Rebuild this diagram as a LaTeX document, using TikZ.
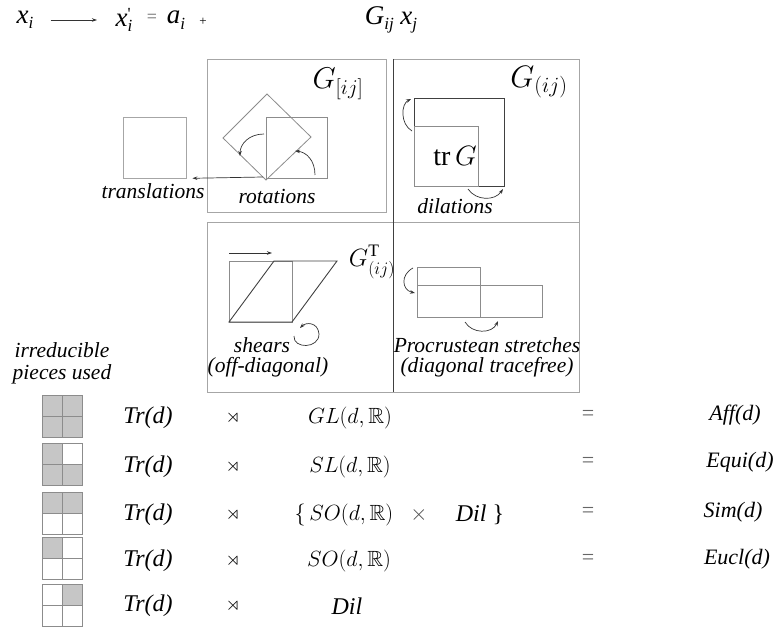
\documentclass[tikz,border=0pt]{standalone}
\usepackage{fix-cm}
\usepackage{amssymb}
\usepackage{fontspec}
\setmainfont{Liberation Serif}
\usetikzlibrary{arrows.meta}
\definecolor{panelgray}{HTML}{A6A6A6}
\definecolor{shapegray}{HTML}{8C8C8C}
\definecolor{cellgray}{HTML}{C6C6C6}
\newcommand{\isub}[2]{\textit{#1}\raisebox{-0.45ex}{\fontsize{17}{17}\selectfont\textit{#2}}}
\newcommand{\isubp}[2]{\textit{#1}\rlap{\raisebox{0.55ex}{\fontsize{17}{17}\selectfont\textquotesingle}}\raisebox{-0.45ex}{\fontsize{17}{17}\selectfont\textit{#2}}}

\begin{document}
\begin{tikzpicture}[x=1pt,y=-1pt,
    lbl/.style={font=\fontsize{21.5}{24}\selectfont\itshape, inner sep=0pt},
    hdr/.style={font=\fontsize{27}{30}\selectfont, inner sep=0pt},
    grp/.style={font=\fontsize{22}{26}\selectfont, inner sep=0pt},
    big/.style={font=\fontsize{30}{34}\selectfont, inner sep=0pt},
    panel/.style={panelgray, line width=0.8pt},
    shp/.style={shapegray, line width=0.8pt},
    dark/.style={black!75, line width=0.9pt},
    arr/.style={black!80, line width=0.7pt, -{Stealth[length=5pt,width=3.5pt]}},
    cell/.style={draw=shapegray, line width=0.6pt}]
  \useasboundingbox (0,0) rectangle (774,628);

  % header
  \node[hdr] (xi) at (25,20) {\isub{x}{i}};
  \node[hdr] (xp) at (124,20) {\isubp{x}{i}};
  \draw[arr] (xi.east) ++(17,0) coordinate (ha) -- (97,20);
  \node[hdr, font=\fontsize{18}{20}\selectfont, text=black!60] (eq0) at (152,18) {=};
  \node[hdr] (ai) at (176,20) {\isub{a}{i}};
  \node[hdr, font=\fontsize{13}{14}\selectfont] (pl0) at (203,22) {+};
  \node[hdr] (gx) at (391,20) {\isub{G}{ij}\ \isub{x}{j}};

  % the four panels
  \draw[panel] (207,59) rectangle (386,212);
  \draw[panel] (393,59) -- (579,59) -- (579,392) -- (207,392) -- (207,222) -- (579,222);
  \draw[dark] (393,59) -- (393,392);

  % rotations
  \draw[shp] (266,117) rectangle (327,178);
  \draw[shp] (267,94) -- (311,137) -- (266,180) -- (223,138) -- cycle;
  \coordinate (rotb) at (263,177);
  \draw[arr] (264,134) .. controls (249,134) and (240,144) .. (240,156);
  \draw[arr] (315,175) .. controls (315,160) and (306,152) .. (295,151);
  \node[big] (gas) at (338,84) {$G_{[ij]}$};
  \node[lbl] (rotl) at (277,196) {rotations};

  % translations
  \node[draw=panelgray, line width=0.8pt, minimum width=63, minimum height=61, inner sep=0pt] (trsq) at (154.5,147.5) {};
  \draw[arr] (rotb) -- (trsq.south east) [shorten >=6pt];
  \node[lbl] (trl) at (153,191) {translations};

  % dilations
  \draw[dark] (414,98) rectangle (504,186);
  \draw[shp] (414,126) rectangle (478,186);
  \node[grp, font=\fontsize{28}{32}\selectfont] (trg) at (455,156) {$\mathrm{tr}\,G$};
  \draw[arr] (412,131) .. controls (400,124) and (401,104) .. (411,99);
  \draw[arr] (468,189) .. controls (476,201) and (495,201) .. (503,189);
  \node[big, font=\fontsize{31}{34}\selectfont] (gsy) at (539,82) {$G_{(ij)}$};
  \node[lbl] (dill) at (455,206) {dilations};

  % shears
  \draw[shp] (229,261) rectangle (292,322);
  \draw[dark] (229,322) -- (274,261) -- (337,261) -- (292,322) -- cycle;
  \draw[arr] (229,253) -- (272,253);
  \draw[arr] (294,336) .. controls (293,349) and (319,349) .. (319,334)
    .. controls (318,322) and (306,322) .. (300,328);
  \node[grp, font=\fontsize{25}{28}\selectfont] (gtr) at (372,262) {$G^{\mathrm{T}}_{(ij)}$};
  \node[lbl] (shl) at (262,345) {shears};
  \node[lbl] (shl2) at (268,367) {(off-diagonal)};

  % procrustean stretches
  \draw[shp] (417,267) rectangle (480,317);
  \draw[shp] (417,285) rectangle (542,317);
  \draw[arr] (413,268) .. controls (400,275) and (402,290) .. (415,293);
  \draw[arr] (465,322) .. controls (472,334) and (492,334) .. (498,321);
  \node[lbl] (prl) at (487,345) {Procrustean stretches};
  \node[lbl] (prl2) at (487,367) {(diagonal tracefree)};

  % irreducible pieces
  \node[lbl] (irr) at (62,350) {irreducible};
  \node[lbl] (pcs) at (62,374) {pieces used};
  \foreach \y/\a/\b/\c/\d in {416/1/1/1/1,464/1/0/1/1,513/1/1/0/0,558/1/0/0/0,605/0/1/0/0}{
    \foreach \dx/\dy/\f in {-10/-10.5/\a,10/-10.5/\b,-10/10.5/\c,10/10.5/\d}{
      \ifnum\f=1
        \fill[cellgray] (62.5+\dx-10,\y+\dy-10.5) rectangle ++(20,21);
      \fi
    }
    \draw[cell] (42.5,\y-21) rectangle (82.5,\y+21);
    \draw[cell] (62.5,\y-21) -- (62.5,\y+21);
    \draw[cell] (42.5,\y) -- (82.5,\y);
  }

  % group rows
  \foreach \y [count=\i] in {418,467,515,561,606}{
    \node[lbl, font=\fontsize{24}{26}\selectfont\itshape] (tr\i) at (148,\y) {Tr(d)};
    \node[grp, font=\fontsize{19}{22}\selectfont] (sd\i) at (233,\y) {$\rtimes$};
  }
  \node[grp] (gl) at (350,418) {$GL(d,\mathbb{R})$};
  \node[grp] (sl) at (350,467) {$SL(d,\mathbb{R})$};
  \node[grp] (so1) at (344,515) {$\{\,SO(d,\mathbb{R})$};
  \node[grp, text=black!70] (tm) at (419,515) {$\times$};
  \node[lbl, font=\fontsize{24}{26}\selectfont\itshape] (dil1) at (480,515) {Dil \upshape\}};
  \node[grp] (so2) at (349,561) {$SO(d,\mathbb{R})$};
  \node[lbl, font=\fontsize{24}{26}\selectfont\itshape] (dil2) at (347,606) {Dil};
  \foreach \y/\x/\n/\t in {415/735/aff/Aff(d),462/740/equ/Equi(d),512/733/sim/Sim(d),559/737/euc/Eucl(d)}{
    \node[grp, text=black!60] (eq\n) at (588,\y) {=};
    \node[lbl, font=\fontsize{22}{24}\selectfont\itshape] (\n) at (\x,\y) {\t};
  }
\end{tikzpicture}
\end{document}
